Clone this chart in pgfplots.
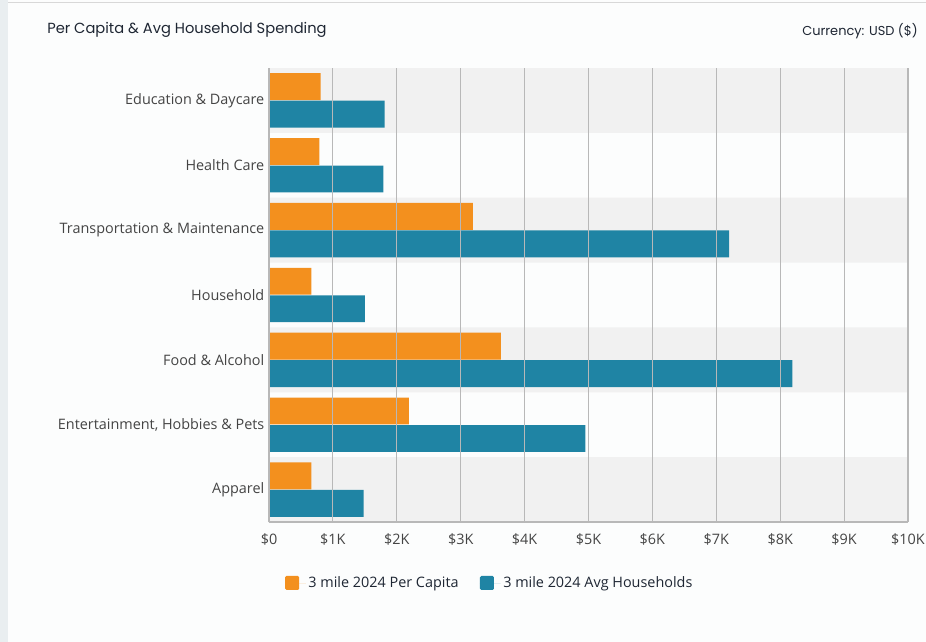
\documentclass[border=0pt]{standalone}
\usepackage{pgfplots}
\pgfplotsset{compat=1.18}
\usepackage{fontspec}
\setmainfont{Open Sans}
\newfontfamily\titlefont{Poppins}
\definecolor{corange}{HTML}{F3901E}
\definecolor{cblue}{HTML}{1F84A4}
\definecolor{band}{HTML}{F1F1F1}
\definecolor{cardbg}{HTML}{FCFDFD}
\definecolor{titlec}{HTML}{1E2633}
\definecolor{labc}{HTML}{444444}
\definecolor{gridc}{HTML}{B8B8B8}
\definecolor{edgec}{HTML}{E9EEF0}
\definecolor{topc}{HTML}{D8D8D8}
\begin{document}
\begin{tikzpicture}
\useasboundingbox (0pt,0pt) rectangle (694.5pt,-481.5pt);
\fill[cardbg] (0pt,0pt) rectangle (694.5pt,-481.5pt);
\fill[edgec] (0pt,0pt) rectangle (6pt,-481.5pt);
\draw[topc, line width=1pt] (6pt,-2pt) -- (694.5pt,-2pt);
\node[anchor=west, font=\titlefont\fontsize{11pt}{13pt}\selectfont, text=titlec, inner sep=0pt] at (35.25pt,-22.75pt) {Per Capita \& Avg Household Spending};
\node[anchor=east, font=\titlefont\fontsize{9.7pt}{11pt}\selectfont, text=titlec, inner sep=0pt] at (688.5pt,-23.25pt) {Currency: USD (\$)};
\begin{axis}[
  at={(201.75pt,-391.5pt)}, anchor=south west,
  scale only axis, width=479.25pt, height=340.5pt,
  xmin=0, xmax=10000, ymin=-0.5, ymax=6.5,
  scaled x ticks=false,
  axis x line*=bottom, axis y line*=left,
  axis line style={gridc, line width=0.8pt},
  xmajorgrids, major grid style={gridc, line width=0.8pt},
  axis on top,
  major tick length=0pt,
  xtick={0,1000,...,10000},
  xticklabels={\$0,\$1K,\$2K,\$3K,\$4K,\$5K,\$6K,\$7K,\$8K,\$9K,\$10K},
  ytick={0,1,2,3,4,5,6},
  yticklabels={Apparel,{Entertainment, Hobbies \& Pets},Food \& Alcohol,Household,Transportation \& Maintenance,Health Care,Education \& Daycare},
  ticklabel style={font=\fontsize{10.8pt}{12.5pt}\selectfont, text=labc},
  xticklabel style={yshift=-5.5pt},
  yticklabel style={xshift=0pt},
  xbar, bar width=0.415,
  legend columns=2,
  legend style={at={(0.346,-0.135)}, anchor=center, draw=none, fill=none,
    font=\fontsize{10.8pt}{12.5pt}\selectfont, text=titlec,
    /tikz/every even column/.append style={column sep=14pt}},
  legend image code/.code={\fill[#1, rounded corners=1pt] (0pt,-5pt) rectangle (10.5pt,5.5pt); \path (0pt,0pt) -- (15.5pt,0pt);},
]
\addplot[fill=band, draw=none, bar width=1, bar shift=0, forget plot] coordinates {(10000,0) (10000,2) (10000,4) (10000,6)};
\addplot[fill=corange, draw=none, bar shift=0.212] coordinates {
(665,0) (2190,1) (3630,2) (665,3) (3190,4) (790,5) (806,6)};
\addplot[fill=cblue, draw=none, bar shift=-0.212] coordinates {
(1480,0) (4950,1) (8190,2) (1500,3) (7200,4) (1790,5) (1810,6)};
\legend{3 mile 2024 Per Capita, 3 mile 2024 Avg Households}
\end{axis}
\end{tikzpicture}
\end{document}
